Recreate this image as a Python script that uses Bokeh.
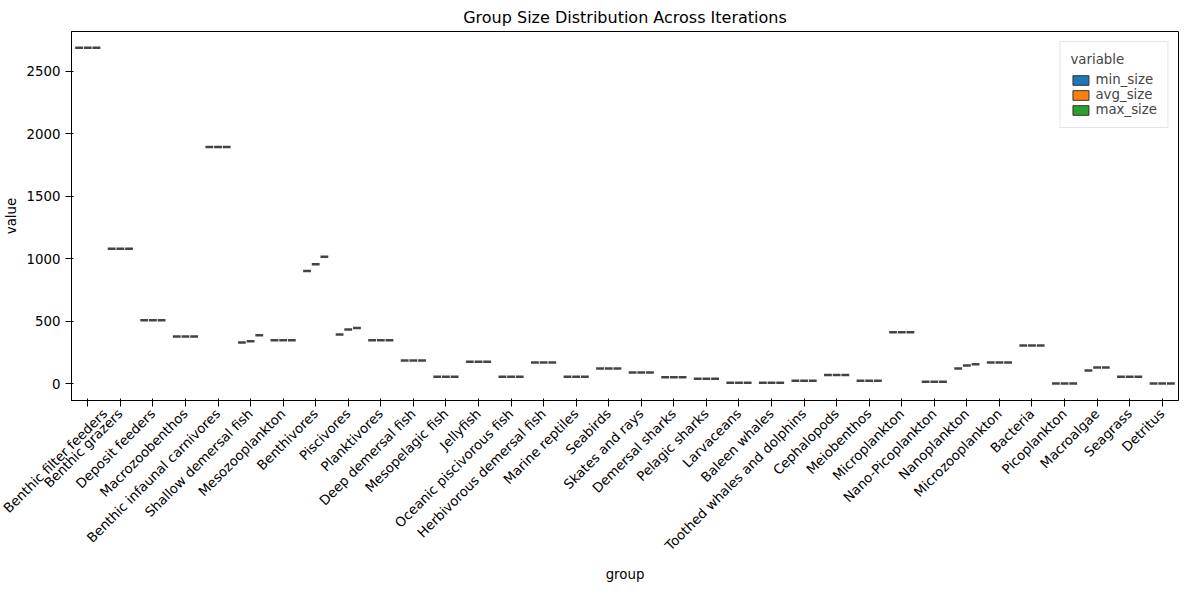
import numpy as np
from bokeh.plotting import figure
from bokeh.models import FixedTicker, Range1d
from bokeh.embed import file_html
from bokeh.resources import INLINE

# group sizes (min, avg, max across iterations)
groups = [
    "Benthic filter feeders", "Benthic grazers", "Deposit feeders", "Macrozoobenthos",
    "Benthic infaunal carnivores", "Shallow demersal fish", "Mesozooplankton", "Benthivores",
    "Piscivores", "Planktivores", "Deep demersal fish", "Mesopelagic fish", "Jellyfish",
    "Oceanic piscivorous fish", "Herbivorous demersal fish", "Marine reptiles", "Seabirds",
    "Skates and rays", "Demersal sharks", "Pelagic sharks", "Larvaceans", "Baleen whales",
    "Toothed whales and dolphins", "Cephalopods", "Meiobenthos", "Microplankton",
    "Nano-Picoplankton", "Nanoplankton", "Microzooplankton", "Bacteria", "Picoplankton",
    "Macroalgae", "Seagrass", "Detritus",
]
min_size = [2690, 1080, 508, 378, 1895, 330, 347, 903, 393, 347, 185, 56, 175, 56, 169, 56,
            121, 89, 51, 40, 8, 8, 24, 70, 24, 411, 16, 121, 169, 306, 2, 105, 56, 1]
avg_size = [2690, 1080, 508, 378, 1895, 340, 347, 957, 433, 347, 185, 56, 175, 56, 169, 56,
            121, 89, 51, 40, 8, 8, 24, 70, 24, 411, 16, 145, 169, 306, 2, 129, 56, 1]
max_size = [2690, 1080, 508, 378, 1895, 387, 347, 1016, 446, 347, 185, 56, 175, 56, 169, 56,
            121, 89, 51, 40, 8, 8, 24, 70, 24, 411, 16, 156, 169, 306, 2, 129, 56, 1]

series = [("min_size", min_size, "#1f77b4"),
          ("avg_size", avg_size, "#ff7f0e"),
          ("max_size", max_size, "#2ca02c")]

p = figure(width=1184, height=584, output_backend="svg", toolbar_location=None,
           title="Group Size Distribution Across Iterations",
           x_range=Range1d(-0.5, len(groups) - 0.5), y_range=Range1d(-135, 2820),
           min_border_left=60, min_border_right=6)
p.title.align = "center"
p.title.text_font_size = "12pt"
p.title.text_font_style = "normal"
p.title.text_font = "DejaVu Sans"
p.title.text_color = "black"
p.grid.visible = False
p.outline_line_color = "black"

xs = np.arange(len(groups))
slot = 0.8 / 3
for i, (name, vals, color) in enumerate(series):
    cx = xs - 0.8 / 2 + slot * (i + 0.5)
    p.segment(cx - slot * 0.45, vals, cx + slot * 0.45, vals,
              line_color="#444444", line_width=2.5)
    p.quad(left=[np.nan], right=[np.nan], top=[np.nan], bottom=[np.nan],
           fill_color=color, line_color="#333333", legend_label=name)

p.legend.title = "variable"
p.legend.title_text_font_style = "normal"
p.legend.location = "top_right"
p.legend.label_text_font_size = "10pt"
p.legend.title_text_font_size = "10pt"
p.legend.label_text_font = "DejaVu Sans"
p.legend.title_text_font = "DejaVu Sans"
p.legend.glyph_height = 12
p.legend.spacing = 0
p.legend.border_line_color = "#cccccc"

p.xaxis.ticker = FixedTicker(ticks=list(xs))
p.xaxis.major_label_overrides = {int(i): g for i, g in enumerate(groups)}
p.xaxis.major_label_orientation = np.pi / 4
p.yaxis.ticker = FixedTicker(ticks=[0, 500, 1000, 1500, 2000, 2500])
p.xaxis.axis_label = "group"
p.yaxis.axis_label = "value"
for ax in (p.xaxis, p.yaxis):
    ax.axis_label_text_font_style = "normal"
    ax.axis_label_text_font_size = "10pt"
    ax.axis_label_text_font = "DejaVu Sans"
    ax.axis_label_text_color = "black"
    ax.major_label_text_font_size = "10pt"
    ax.major_label_text_font = "DejaVu Sans"
    ax.minor_tick_line_color = None
    ax.major_label_text_color = "black"

open("out.html", "w").write(file_html(p, INLINE))
